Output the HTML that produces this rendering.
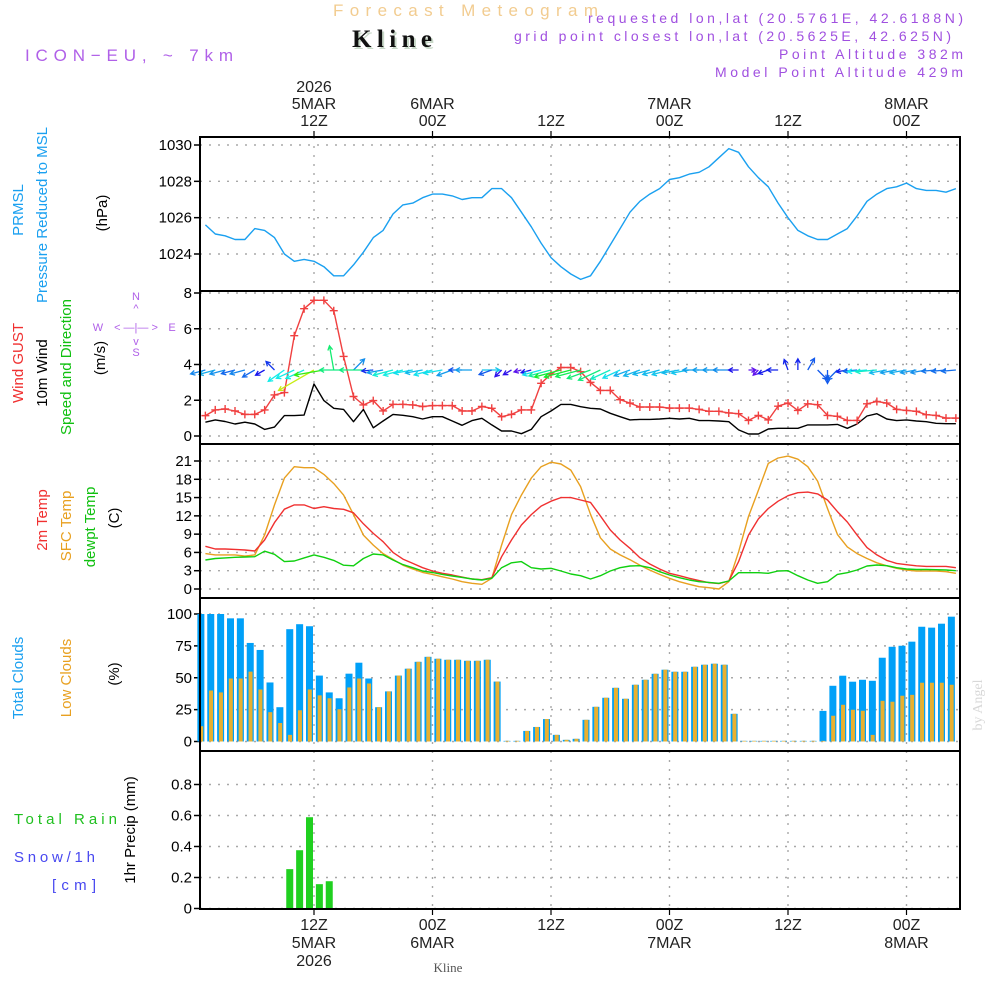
<!DOCTYPE html>
<html><head><meta charset="utf-8"><title>Kline meteogram</title>
<style>
html,body{margin:0;padding:0;background:#fff;}
svg{display:block;font-family:"Liberation Sans",sans-serif;}
</style></head>
<body>
<svg id="chart" width="1000" height="1000" viewBox="0 0 1000 1000" xmlns="http://www.w3.org/2000/svg">
<rect width="1000" height="1000" fill="#fff"/>
<g id="header">
<text x="333" y="16" font-size="17" fill="#f2cc90" textLength="265" lengthAdjust="spacing">Forecast Meteogram</text>
<text x="354" y="49" font-family="Liberation Serif,serif" font-weight="bold" font-size="25" fill="#c8d8c8" textLength="80">Kline</text>
<text x="352" y="47" font-family="Liberation Serif,serif" font-weight="bold" font-size="25" fill="#111" textLength="80">Kline</text>
<text x="25" y="61" font-size="17" fill="#b060e8" textLength="208" lengthAdjust="spacing">ICON−EU, ~ 7km</text>
<text x="963" y="23" font-size="14" fill="#a050e0" text-anchor="end" textLength="375" lengthAdjust="spacing">requested lon,lat (20.5761E, 42.6188N)</text>
<text x="951" y="41" font-size="14" fill="#a050e0" text-anchor="end" textLength="437" lengthAdjust="spacing">grid point closest lon,lat (20.5625E, 42.625N)</text>
<text x="963" y="59" font-size="14" fill="#a050e0" text-anchor="end" textLength="184" lengthAdjust="spacing">Point Altitude 382m</text>
<text x="963" y="77" font-size="14" fill="#a050e0" text-anchor="end" textLength="248" lengthAdjust="spacing">Model Point Altitude 429m</text>
</g>
<g id="leftlabels" font-size="15">
<text transform="translate(23,210) rotate(-90)" text-anchor="middle" fill="#1aa0f0">PRMSL</text>
<text transform="translate(47,215) rotate(-90)" text-anchor="middle" fill="#1aa0f0">Pressure Reduced to MSL</text>
<text transform="translate(107,213) rotate(-90)" text-anchor="middle" fill="#000">(hPa)</text>
<text transform="translate(23,363) rotate(-90)" text-anchor="middle" fill="#f03030">Wind GUST</text>
<text transform="translate(47,373) rotate(-90)" text-anchor="middle" fill="#000">10m Wind</text>
<text transform="translate(71,367) rotate(-90)" text-anchor="middle" fill="#10c010">Speed and Direction</text>
<text transform="translate(105,358) rotate(-90)" text-anchor="middle" fill="#000">(m/s)</text>
<g fill="#b060e8" font-size="11" text-anchor="middle">
<text x="136" y="300">N</text><text x="136" y="312">^</text>
<text x="98" y="331">W</text><text x="136" y="331">&lt; —|— &gt;</text><text x="172" y="331">E</text>
<text x="136" y="345">v</text><text x="136" y="356">S</text>
</g>
<text transform="translate(47,520) rotate(-90)" text-anchor="middle" fill="#f03030">2m Temp</text>
<text transform="translate(71,526) rotate(-90)" text-anchor="middle" fill="#e8a020">SFC Temp</text>
<text transform="translate(95,527) rotate(-90)" text-anchor="middle" fill="#10c010">dewpt Temp</text>
<text transform="translate(119,518) rotate(-90)" text-anchor="middle" fill="#000">(C)</text>
<text transform="translate(23,678) rotate(-90)" text-anchor="middle" fill="#1aa0f0">Total Clouds</text>
<text transform="translate(71,678) rotate(-90)" text-anchor="middle" fill="#e8a020">Low Clouds</text>
<text transform="translate(119,674) rotate(-90)" text-anchor="middle" fill="#000">(%)</text>
<text x="14" y="824" fill="#20c020" textLength="103" lengthAdjust="spacing">Total   Rain</text>
<text x="14" y="862" fill="#4848f0" textLength="81" lengthAdjust="spacing">Snow/1h</text>
<text x="52" y="890" fill="#4848f0" textLength="44" lengthAdjust="spacing">[cm]</text>
<text transform="translate(135,830) rotate(-90)" text-anchor="middle" fill="#000">1hr Precip (mm)</text>
</g>
<text transform="translate(982,705) rotate(-90)" text-anchor="middle" font-family="Liberation Serif,serif" font-size="14" fill="#d8d8d8">by Angel</text>
<text x="448" y="972" text-anchor="middle" font-family="Liberation Serif,serif" font-size="13" fill="#555">Kline</text>
<g id="plot"></g>
</svg>
<script>
const hours = [1,2,3,4,5,6,7,8,9,10,11,12,13,14,15,16,17,18,19,20,21,22,23,24,25,26,27,28,29,30,31,32,33,34,35,36,37,38,39,40,41,42,43,44,45,46,47,48,49,50,51,52,53,54,55,56,57,58,59,60,61,62,63,64,65,66,67,68,69,70,71,72,73,74,75,76,77];
const pressure = [1025.6,1025.1,1025.0,1024.8,1024.8,1025.4,1025.3,1024.9,1024.0,1023.6,1023.7,1023.6,1023.3,1022.8,1022.8,1023.4,1024.1,1024.9,1025.3,1026.2,1026.7,1026.8,1027.1,1027.3,1027.3,1027.2,1027.0,1027.1,1027.1,1027.6,1027.6,1027.1,1026.3,1025.5,1024.6,1023.8,1023.3,1022.9,1022.6,1022.8,1023.6,1024.5,1025.4,1026.3,1026.9,1027.3,1027.6,1028.1,1028.2,1028.4,1028.5,1028.8,1029.3,1029.8,1029.6,1028.8,1028.2,1027.7,1026.8,1026.0,1025.3,1025.0,1024.8,1024.8,1025.1,1025.4,1026.1,1026.9,1027.3,1027.6,1027.7,1027.9,1027.6,1027.5,1027.5,1027.4,1027.6];
const gust = [1.14,1.46,1.51,1.40,1.21,1.21,1.46,2.30,2.43,5.61,7.12,7.59,7.59,7.01,4.45,2.21,1.74,1.98,1.40,1.77,1.77,1.74,1.65,1.70,1.70,1.70,1.40,1.40,1.65,1.55,1.08,1.21,1.46,1.46,2.95,3.46,3.83,3.83,3.60,3.00,2.55,2.55,2.03,1.84,1.62,1.62,1.62,1.56,1.56,1.56,1.49,1.38,1.38,1.29,1.25,0.87,1.15,0.90,1.67,1.84,1.43,1.80,1.75,1.15,1.10,0.87,0.87,1.80,1.93,1.84,1.49,1.43,1.38,1.19,1.15,1.00,1.00];
const wind10m = [0.77,0.90,0.81,0.67,0.77,0.67,0.37,0.50,1.14,1.14,1.17,2.91,1.98,1.55,1.49,0.80,1.49,0.46,0.84,1.21,1.16,1.08,0.95,1.08,1.08,0.84,0.60,0.86,0.99,0.62,0.28,0.28,0.13,0.37,1.08,1.40,1.77,1.77,1.64,1.55,1.51,1.27,1.08,0.90,0.93,0.93,0.95,0.99,0.95,0.99,0.86,0.86,0.84,0.80,0.34,0.11,0.11,0.39,0.43,0.43,0.43,0.62,0.62,0.62,0.65,0.43,0.67,1.12,1.25,0.95,0.86,0.90,0.84,0.80,0.71,0.69,0.69];
const windDir = [195,195,195,195,195,210,210,135,215,205,205,210,190,100,180,45,180,185,190,195,195,190,190,195,190,200,180,180,0,200,225,210,195,195,195,195,195,195,195,200,205,205,205,200,200,195,195,195,190,190,180,180,180,180,180,0,225,200,180,110,90,60,315,270,225,190,185,185,185,190,190,190,190,190,185,185,185];
const temp2m = [7.0,6.56,6.56,6.5,6.4,6.24,8.04,10.9,13.1,13.8,13.8,13.2,13.5,13.2,13.08,12.5,10.7,9.13,7.76,6.0,4.9,4.2,3.5,2.95,2.57,2.3,1.97,1.64,1.53,1.86,5.3,8.04,10.5,12.2,13.6,14.4,15.0,15.0,14.6,14.2,12.0,9.68,8.04,6.67,5.14,4.1,3.28,2.57,2.19,1.75,1.37,1.04,0.88,1.31,4.5,8.85,11.5,13.2,14.4,15.3,15.8,15.9,15.6,14.6,12.7,11.0,8.85,6.8,5.6,4.7,4.2,3.99,3.8,3.7,3.7,3.7,3.5];
const sfcTemp = [5.8,5.6,5.6,5.6,5.4,5.6,8.85,13.8,18.2,20.06,19.9,19.9,18.8,17.3,15.4,12.2,8.85,7.2,5.8,4.85,3.9,3.28,2.73,2.4,2.0,1.64,1.2,0.93,0.77,1.75,7.2,12.2,15.4,18.2,20.06,20.8,20.5,19.5,16.8,12.25,8.4,6.56,5.6,4.8,3.9,3.1,2.4,1.75,1.2,0.77,0.38,0.22,0.0,1.2,6.1,11.9,16.2,20.6,21.5,21.8,21.3,20.06,17.7,13.2,8.96,6.9,5.8,5.0,4.3,3.8,3.4,3.1,2.95,2.95,2.95,2.84,2.57];
const dewpt = [4.76,5.0,5.1,5.2,5.25,5.3,6.2,5.69,4.5,4.6,5.1,5.6,5.2,4.7,3.9,3.8,5.0,5.75,5.6,4.76,4.0,3.5,2.95,2.7,2.4,2.13,1.9,1.64,1.48,1.75,3.5,4.3,4.5,3.5,3.28,3.4,2.95,2.46,2.19,1.64,2.19,2.95,3.5,3.77,3.82,3.5,2.84,2.3,1.86,1.48,1.2,1.09,0.93,1.31,2.68,2.68,2.68,2.57,2.95,3.0,2.19,1.48,0.93,1.2,2.4,2.68,3.11,3.77,3.93,3.82,3.5,3.28,3.2,3.2,3.17,3.11,3.0];
const totalClouds = [100,100,100,96.6,96.6,77.3,71.8,46.3,26.9,88.1,92,90.4,51.7,38.5,33.9,53.2,61.8,49.4,26.9,39.3,51.7,57.1,62.5,66.4,64.9,64.1,64.1,63.3,63.3,64.1,47,0.5,0.5,8.3,11.4,17.6,5.2,1.3,2.1,17,27.2,34.3,42.1,33.5,44.5,48.4,53.1,56.3,54.7,54.7,58.6,60.2,61,60.2,21.7,0.5,0.5,0.5,0.5,0.5,0.5,0.5,0.5,24,43.7,51.6,46.9,48.4,47.6,65.7,74.3,75.1,78.3,90,89.3,92.4,97.9];
const lowClouds = [12,40,38.5,49.4,49.4,54.8,40.8,23,14.5,5.2,24.5,40.8,36.2,33.9,25.3,42.4,49.4,45.5,26.9,39.3,51.7,57.1,62.5,66.4,64.9,64.1,64.1,63.3,63.3,64.1,47,0.5,0.5,8.3,11.4,17.6,5.2,1.3,2.1,17,27.2,34.3,42.1,33.5,44.5,48.4,53.1,56.3,54.7,54.7,58.6,60.2,61,60.2,21.7,0.5,0.5,0.5,0.5,0.5,0.5,0.5,0.5,0.5,20.2,28.8,24.9,24.1,5.2,31.9,31.2,35.9,36.6,46.1,46.1,46.1,44.5];
const rain = [0,0,0,0,0,0,0,0,0,0.254,0.376,0.589,0.157,0.176,0,0,0,0,0,0,0,0,0,0,0,0,0,0,0,0,0,0,0,0,0,0,0,0,0,0,0,0,0,0,0,0,0,0,0,0,0,0,0,0,0,0,0,0,0,0,0,0,0,0,0,0,0,0,0,0,0,0,0,0,0,0,0];
const pressureTicks = [1024,1026,1028,1030];
const windTicks = [0,2,4,6,8];
const tempTicks = [0,3,6,9,12,15,18,21];
const cloudTicks = [0,25,50,75,100];
const precipTicks = [0,0.2,0.4,0.6,0.8];
const timeTickHours = [12,24,36,48,60,72];
const topTimeLabels = [["2026","5MAR","12Z"],["","6MAR","00Z"],["","","12Z"],["","7MAR","00Z"],["","","12Z"],["","8MAR","00Z"]];
const bottomTimeLabels = [["12Z","5MAR","2026"],["00Z","6MAR",""],["12Z","",""],["00Z","7MAR",""],["12Z","",""],["00Z","8MAR",""]];

const NS = "http://www.w3.org/2000/svg";
const plot = document.getElementById('plot');
const X0 = 200, X1 = 960;
const xH = h => 314 + (h - 12) * 9.875;
function lin(v0, y0, v1, y1) { return v => y0 + (v - v0) * (y1 - y0) / (v1 - v0); }
const yP = lin(1024, 254, 1030, 145);
const yW = lin(0, 436, 8, 293);
const yT = lin(0, 589, 21, 461);
const yC = lin(0, 741.5, 100, 614);
const yR = lin(0, 908.5, 0.8, 784.5);
const panels = [[137, 291], [291, 444], [444, 598], [598, 751], [751, 909]];

function mk(tag, attrs, parent) {
  const e = document.createElementNS(NS, tag);
  for (const k in attrs) e.setAttribute(k, attrs[k]);
  (parent || plot).appendChild(e);
  return e;
}

function hgrid(ticks, yf, fmt, name) {
  ticks.forEach(t => {
    const y = yf(t);
    const g = mk('line', {x1: X0, x2: X1, y1: y, y2: y, stroke: '#a8a8a8', 'stroke-width': 1.4, 'stroke-dasharray': '2 7'});
    
    
    const tk = mk('line', {x1: X0 - 6, x2: X0, y1: y, y2: y, stroke: '#000', 'stroke-width': 1.5});
    
    
    const tx = mk('text', {x: X0 - 8, y: y + 5, 'font-size': 15, 'text-anchor': 'end', fill: '#000'});
    tx.textContent = fmt(t);
    
    
  });
}
panels.forEach(([a, b]) => {
  timeTickHours.forEach(h => {
    const x = xH(h);
    const v = mk('line', {x1: x, x2: x, y1: a, y2: b, stroke: '#a8a8a8', 'stroke-width': 1.4, 'stroke-dasharray': '2 7'});
    
    
  });
});
hgrid(pressureTicks, yP, t => String(t), 'pressure');
hgrid(windTicks, yW, t => String(t), 'wind');
hgrid(tempTicks, yT, t => String(t), 'temp');
hgrid(cloudTicks, yC, t => String(t), 'cloud');
hgrid(precipTicks, yR, t => t === 0 ? '0' : t.toFixed(1), 'precip');

function poly(vals, yf, color, name, w) {
  const pts = vals.map((v, i) => xH(hours[i]).toFixed(1) + ',' + yf(v).toFixed(1)).join(' ');
  const p = mk('polyline', {points: pts, fill: 'none', stroke: color, 'stroke-width': w || 1.4, 'stroke-linejoin': 'round'});
  
  
}

poly(pressure, yP, '#1aa0f0', 'pressure-line');

poly(wind10m, yW, '#000', 'wind-10m-line');
poly(gust, yW, '#f04040', 'gust-line');
gust.forEach((v, i) => {
  const x = xH(hours[i]), y = yW(v);
  const m = mk('path', {d: `M${x-4},${y}H${x+4}M${x},${y-4}V${y+4}`, stroke: '#f04040', 'stroke-width': 1.4});
  
  
});
windDir.forEach((d, i) => {
  const s = wind10m[i];
  const x = xH(hours[i]), y = 370;
  const L = 6 + s * 12;
  const a = d * Math.PI / 180;
  const tx = x + L * Math.cos(a), ty = y - L * Math.sin(a);
  const hue = Math.max(70, Math.min(275, 270 - s * 80));
  const col = `hsl(${hue},85%,50%)`;
  const h1 = a + Math.PI - 0.5, h2 = a + Math.PI + 0.5;
  const dpath = `M${x},${y}L${tx},${ty}M${tx + 5*Math.cos(h1)},${ty - 5*Math.sin(h1)}L${tx},${ty}L${tx + 5*Math.cos(h2)},${ty - 5*Math.sin(h2)}`;
  const ar = mk('path', {d: dpath, stroke: col, 'stroke-width': 1.3, fill: 'none'});
  
  
});

poly(sfcTemp, yT, '#e8a020', 'sfc-temp-line');
poly(temp2m, yT, '#f03030', 'temp-2m-line');
poly(dewpt, yT, '#10d010', 'dewpoint-line');

totalClouds.forEach((v, i) => {
  const cx = xH(hours[i]) - 4.5;
  const b = mk('rect', {x: cx - 3.5, y: yC(v), width: 7, height: yC(0) - yC(v), fill: '#00a0f8'});
  
  
  const lv = lowClouds[i];
  const l = mk('rect', {x: cx - 1.7, y: yC(lv), width: 4, height: yC(0) - yC(lv), fill: '#e8b030'});
  
  
});

rain.forEach((v, i) => {
  if (v <= 0) return;
  const cx = xH(hours[i]) - 4.5;
  const b = mk('rect', {x: cx - 3.5, y: yR(v), width: 7, height: yR(0) - yR(v), fill: '#20d020'});
  
  
});

panels.forEach(([a, b]) => {
  const r = mk('rect', {x: X0, y: a, width: X1 - X0, height: b - a, fill: 'none', stroke: '#000', 'stroke-width': 2});
  
  
});

timeTickHours.forEach((h, i) => {
  const x = xH(h);
  const t1 = mk('line', {x1: x, x2: x, y1: 131, y2: 137, stroke: '#000', 'stroke-width': 1.2});
  
  
  const t2 = mk('line', {x1: x, x2: x, y1: 909, y2: 915, stroke: '#000', 'stroke-width': 1.2});
  
  
  topTimeLabels[i].forEach((s, j) => {
    if (!s) return;
    const t = mk('text', {x: x, y: 92 + j * 17, 'font-size': 16, 'text-anchor': 'middle', fill: '#222'});
    t.textContent = s;
    
    
  });
  bottomTimeLabels[i].forEach((s, j) => {
    if (!s) return;
    const t = mk('text', {x: x, y: 930 + j * 18, 'font-size': 16, 'text-anchor': 'middle', fill: '#222'});
    t.textContent = s;
    
    
  });
});
</script>
</body></html>
